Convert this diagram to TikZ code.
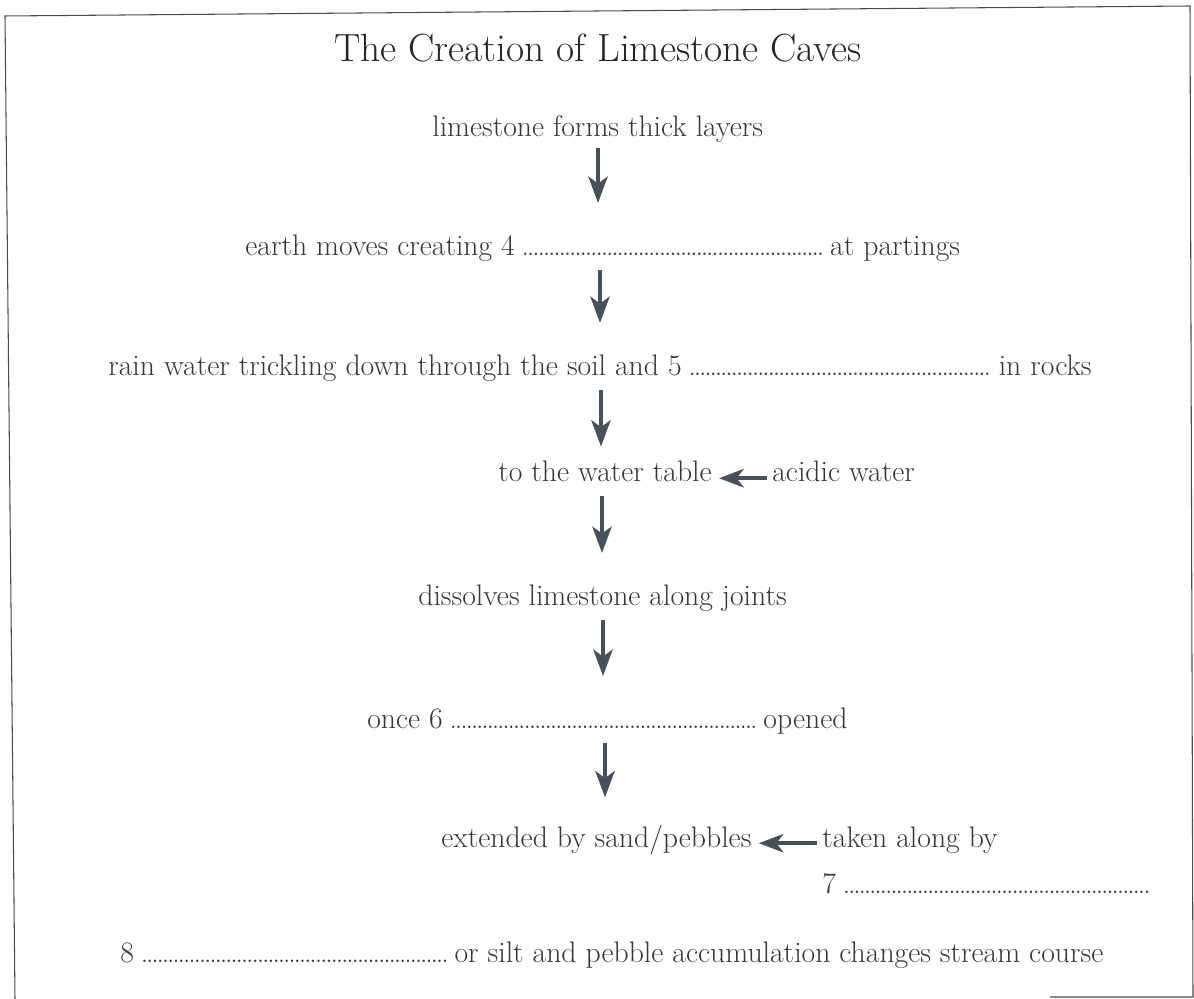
\documentclass[tikz,border=0pt]{standalone}
\usepackage{tikz}
\usetikzlibrary{arrows.meta, positioning}

\definecolor{ink}{RGB}{55,55,55}
\definecolor{arrowgrey}{RGB}{72,80,90}
\newcommand{\blankline}[1]{\hspace{4.5pt}\hbox to #1{\leaders\hbox to 3pt{\hss.\hss}\hfill}\hspace{4pt}}

\begin{document}
\begin{tikzpicture}[
        x=0.02cm, y=-0.02cm,
        txt/.style={anchor=base west, inner sep=0pt, text=ink, font=\fontsize{16.9}{20}\selectfont, text height=11pt, text depth=3pt},
        title/.style={anchor=base, inner sep=0pt, text=black!85, font=\fontsize{22.4}{27}\selectfont},
        down/.style={-{Stealth[length=15pt, width=11pt, inset=4pt]}, line width=2.1pt, draw=arrowgrey, shorten <=5pt, shorten >=19pt},
        back/.style={-{Stealth[length=14pt, width=10.5pt, inset=4pt]}, line width=2.1pt, draw=arrowgrey, shorten <=3pt, shorten >=4pt}
    ]
        \useasboundingbox (0,0) rectangle (1194,999);
        % frame
        \draw[black!70, line width=0.6pt] (15,999) -- (5,16) -- (1190,6) -- (1193,997) -- (1050,997);

        % Title
        \node[title] (title) at (598,62) {The Creation of Limestone Caves};

        % Main steps
        \node[txt] (l1) at (432,137) {limestone forms thick layers};
        \node[txt] (l2) at (245,256) {earth moves creating 4\blankline{171pt}at partings};
        \node[txt] (l3) at (108,376) {rain water trickling down through the soil and 5\blankline{172pt}in rocks};
        \node[txt] (l4) at (498,482) {to the water table};
        \node[txt] (l4b) at (772,482) {acidic water};
        \node[txt] (l5) at (418,606) {dissolves limestone along joints};
        \node[txt] (l6) at (367,729) {once 6\blankline{174pt}opened};
        \node[txt] (l7) at (441,847) {extended by sand/pebbles};
        \node[txt] (l7b) at (822,847) {taken along by};
        \node[txt] (l7c) at (822,893) {7\blankline{175pt}};
        \node[txt] (l8) at (120,962) {8\blankline{174pt}or silt and pebble accumulation changes stream course};

        % Arrow columns
        \coordinate (c1) at (598,0);
        \coordinate (c2) at (600,0);
        \coordinate (c3) at (601,0);
        \coordinate (c4) at (602,0);
        \coordinate (c5) at (603,0);
        \coordinate (c6) at (605,0);

        % Connections
        \draw[down, shorten <=3pt] (l1.south -| c1) -- (l2.north -| c1);
        \draw[down] (l2.south -| c2) -- (l3.north -| c2);
        \draw[down, shorten >=9pt] (l3.south -| c3) -- (l4.north -| c3);
        \draw[down] (l4.south -| c4) -- (l5.north -| c4);
        \draw[down] (l5.south -| c5) -- (l6.north -| c5);
        \draw[down, shorten >=17pt] (l6.south -| c6) -- (l7.north -| c6);
        \draw[back] (l4b.mid west) -- (l4.mid east);
        \draw[back] (l7b.mid west) -- (l7.mid east);
    \end{tikzpicture}
\end{document}
